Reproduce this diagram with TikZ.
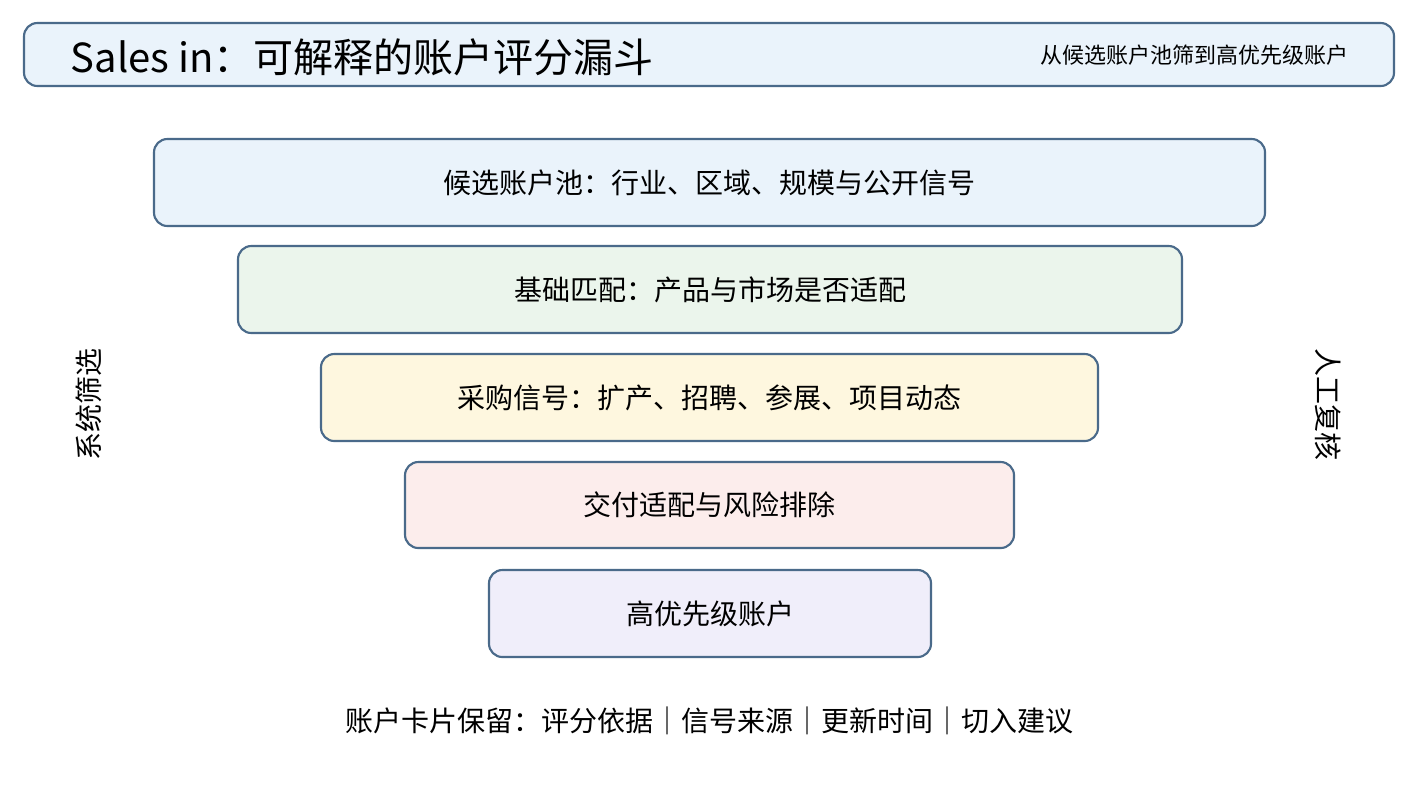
\documentclass[tikz,border=0pt]{standalone}
\usepackage{fontspec}
\setmainfont{Noto Sans CJK SC}
\begin{document}
\begin{tikzpicture}[x=0.75pt,y=-0.75pt,
  box/.style={draw=bordc,line width=1.6pt,rounded corners=10pt},
  lbl/.style={font=\fontsize{21}{24}\selectfont,text=black}]
\definecolor{bordc}{HTML}{4A6A8A}
\definecolor{c1}{HTML}{EAF3FB}
\definecolor{c2}{HTML}{EBF5EC}
\definecolor{c3}{HTML}{FEF7DF}
\definecolor{c4}{HTML}{FCEDEC}
\definecolor{c5}{HTML}{F0EEFA}
\useasboundingbox (0,0) rectangle (1419,794);
\draw[box,fill=c1] (24,23) rectangle (1394,86);
\node[anchor=west,font=\fontsize{30}{34}\selectfont] (title) at (66,57) {Sales in：可解释的账户评分漏斗};
\node[anchor=east,font=\fontsize{16.5}{20}\selectfont] (sub) at (1353,55) {从候选账户池筛到高优先级账户};
\node[box,fill=c1,minimum width=1111*0.75pt,minimum height=87*0.75pt,lbl] (b1) at (709.5,182.5) {候选账户池：行业、区域、规模与公开信号};
\node[box,fill=c2,minimum width=944*0.75pt,minimum height=87*0.75pt,lbl] (b2) at (710,289.5) {基础匹配：产品与市场是否适配};
\node[box,fill=c3,minimum width=777*0.75pt,minimum height=87*0.75pt,lbl] (b3) at (709.5,397.5) {采购信号：扩产、招聘、参展、项目动态};
\node[box,fill=c4,minimum width=609*0.75pt,minimum height=86*0.75pt,lbl] (b4) at (709.5,505) {交付适配与风险排除};
\node[box,fill=c5,minimum width=442*0.75pt,minimum height=87*0.75pt,lbl] (b5) at (710,613.5) {高优先级账户};
\node[lbl] (foot) at (709,721) {账户卡片保留：评分依据｜信号来源｜更新时间｜切入建议};
\node[lbl,rotate=90] (left) at (89,404) {系统筛选};
\node[lbl,rotate=-90] (right) at (1328,404) {人工复核};
\end{tikzpicture}
\end{document}
